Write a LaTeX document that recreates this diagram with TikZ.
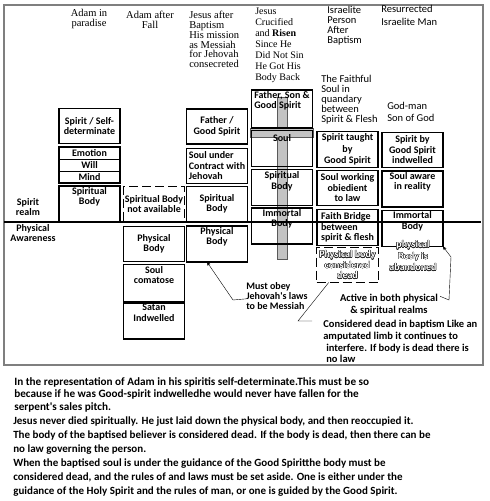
\documentclass[tikz,border=0pt]{standalone}
\usepackage{fontspec}
\setmainfont{Liberation Serif}
\newfontfamily\calibri{Carlito}
\usepackage{contour}
\usetikzlibrary{arrows,positioning}
\contourlength{0.3pt}
\definecolor{frameGray}{HTML}{7F7F7F}
\definecolor{crossGray}{HTML}{C3C3C3}
\newcommand{\tightlines}{\lineskiplimit=-10pt\relax}
\newcommand{\boxfont}{\calibri\bfseries\fontsize{10}{10.5}\selectfont\tightlines}
\newcommand{\notefont}{\calibri\bfseries\fontsize{10.5}{11.7}\selectfont\tightlines}
\newcommand{\obeyfont}{\calibri\bfseries\fontsize{10}{10}\selectfont\tightlines}
\newcommand{\parafont}{\calibri\bfseries\fontsize{11.2}{12.6}\selectfont\tightlines}
\newcommand{\parbfont}{\calibri\bfseries\fontsize{11}{14}\selectfont\tightlines}
\newcommand{\seriffont}{\rmfamily\fontsize{10.5}{9.8}\selectfont\tightlines}
\newcommand{\risenfont}{\rmfamily\fontsize{10}{11}\selectfont\tightlines}
\newcommand{\sansfont}{\calibri\fontsize{10.5}{9.9}\selectfont\tightlines}
\newcommand{\hollow}[1]{\contour{black!85}{\textcolor{white}{#1}}}
\tikzset{
	box/.style={draw, line width=1.8pt, minimum width=61pt, minimum height=35pt,
		inner sep=1pt, outer sep=0pt, align=center, font=\boxfont},
	dashbox/.style={box, dash pattern=on 9pt off 4pt},
	row/.style={draw, line width=0.9pt, minimum width=61pt, minimum height=12pt,
		inner sep=0pt, outer sep=0pt, font=\boxfont},
	serifhead/.style={inner sep=0pt, align=left, font=\seriffont},
	sanshead/.style={anchor=north west, inner sep=0pt, align=left, font=\sansfont},
	note/.style={inner sep=0pt, align=left, font=\notefont},
	link/.style={thin, black}
}

\begin{document}
\begin{tikzpicture}[x=1pt,y=-1pt,>=stealth',semithick]
	\useasboundingbox (0,0) rectangle (490,501);
	\draw[frameGray, line width=1.5pt] (4,5) rectangle (483,365);
	
	% cross behind the crucified column
	\filldraw[fill=crossGray, draw=gray!70!black, thin] (277,97) -- (287,97) -- (287,128) -- (313,128)
		-- (313,137) -- (287,137) -- (287,259) -- (277,259) -- (277,137) -- (250,137) -- (250,128)
		-- (277,128) -- cycle;
	
	\node[serifhead, align=center] (adampar) at (89,19) {Adam in\\paradise};
	\node[serifhead, align=center] (adamfall) at (150,19.5) {Adam after\\Fall};
	\node[serifhead, anchor=north west] (jesusbap) at (189,11) {Jesus after\\Baptism\\His mission\\as Messiah\\for Jehovah\\consecreted};
	\node[serifhead, anchor=north west, font=\risenfont] (jesusrisen) at (255,8)
		{Jesus\\Crucified\\and \textbf{Risen}\\Since He\\Did Not Sin\\He Got His\\Body Back};
	\node[sanshead] (israelite) at (327,6) {Israelite\\Person\\After\\Baptism};
	\node[sanshead] (resurrected) at (381,5) {Resurrected\\[3pt]Israelite Man};
	\node[sanshead] (faithful) at (321,75) {The Faithful\\Soul in\\quandary\\between\\Spirit \& Flesh};
	\node[sanshead] (godman) at (387,102) {God-man\\[2pt]Son of God};
	
	\node[note, align=center, font=\obeyfont] (spiritrealm) at (28,207) {Spirit\\realm};
	\node[note, align=center, font=\obeyfont] (physaware) at (33,233) {Physical\\Awareness};
	
	% Adam in paradise
	\node[box] (c1spirit) at (89.5,126) {Spirit / Self-\\determinate};
	\node[row] (emotion) at (89.5,153) {Emotion};
	\node[row, below=0pt of emotion] (will) {Will};
	\node[row, below=0pt of will] (mind) {Mind};
	\draw[line width=1.8pt] (emotion.north west) rectangle (mind.south east);
	\node[box] (c1body) at (89.5,204) {Spiritual\\Body\\[6pt]};
	
	% Adam after the fall
	\node[dashbox] (c2spirit) at (154,204) {Spiritual Body\\not available};
	\node[box] (c2body) at (154,244) {Physical\\Body};
	\node[box, minimum height=37pt] (c2soul) at (154,283) {Soul\\comatose\\[6pt]};
	\node[box] (c2satan) at (154,321) {Satan\\Indwelled\\[6pt]};
	
	% Jesus after baptism
	\node[box] (c3spirit) at (217,126.5) {Father /\\Good Spirit};
	\node[box, align=left] (c3soul) at (217,166) {Soul under\\Contract with\\Jehovah};
	\node[box] (c3sbody) at (217,204) {Spiritual\\Body};
	\node[box] (c3pbody) at (217,244) {Physical\\Body\\[6pt]};
	
	% Jesus crucified and risen
	\node[box, align=left] (c4spirit) at (282,109) {Father, Son \&\\Good Spirit\\[8pt]};
	\node[box, minimum height=36pt] (c4soul) at (282,148.5) {Soul\\[10pt]};
	\node[box, minimum height=36pt] (c4sbody) at (282,187.5) {Spiritual\\Body\\[4pt]};
	\node[box] (c4ibody) at (282,226) {Immortal\\Body\\[6pt]};
	
	% Israelite after baptism
	\node[box, minimum height=36pt] (c5spirit) at (347.5,149.5) {Spirit taught\\[1pt]by\\[1pt]Good Spirit};
	\node[box] (c5soul) at (347.5,188) {Soul working\\obiedient\\to law};
	\node[box, align=left, minimum height=36pt] (c5bridge) at (347.5,227.5) {Faith Bridge\\between\\spirit \& flesh};
	\node[dashbox, minimum width=62pt] (c5body) at (347.5,265) {\hollow{Physical body}\\\hollow{considered}\\\hollow{dead}};
	
	% resurrected Israelite
	\node[box] (c6spirit) at (412.5,150) {Spirit by\\Good Spirit\\indwelled};
	\node[box] (c6soul) at (412.5,189) {Soul aware\\in reality\\[6pt]};
	\node[box, minimum height=36pt] (c6ibody) at (412.5,228.5) {Immortal\\Body\\[6pt]};
	\node[note, align=center, font=\boxfont] (abandoned) at (413,256) {\hollow{physical}\\[1pt]\hollow{Body is}\\[1pt]\hollow{abandoned}};
	
	% spirit realm / physical awareness
	\draw[line width=1.5pt] (4,222) -- (481,222);
	
	\node[note, anchor=north west, font=\obeyfont] (mustobey) at (246,282) {Must obey\\Jehovah's laws\\to be Messiah};
	\node[note, align=center] (active) at (389,304.5) {Active in both physical\\[1pt]\& spiritual realms};
	\node[note, anchor=north west] (considered) at (323,320) {Considered dead in baptism Like an\\amputated limb it continues to\\\hspace{3pt}interfere. If body is dead there is\\\hspace{3pt}no law};
	
	\coordinate (obeykink) at (233,300);
	\coordinate (deadkink) at (298,321);
	\coordinate (activekink) at (449,300);
	\draw[link,->] ([yshift=-3pt]mustobey.west) -- (obeykink) -- (c3pbody.241);
	\draw[link] (c5body.223) -- (deadkink) -- ++(14,0);
	\draw[link,->] ([xshift=2pt,yshift=-3pt]active.north east) -- (activekink) -- (451,257) -- (c6ibody.south east);
	
	\node[note, anchor=north west, font=\parafont] (adamnote) at (14,377)
		{In the representation of Adam in his spiritis self-determinate.This must be so\\
		because if he was Good-spirit indwelledhe would never have fallen for the\\
		serpent's sales pitch.};
	\node[note, anchor=north west, font=\parbfont] (jesusnote) at (13,416)
		{Jesus never died spiritually. He just laid down the physical body, and then reoccupied it.\\
		The body of the baptised believer is considered dead. If the body is dead, then there can be\\
		no law governing the person.\\
		When the baptised soul is under the guidance of the Good Spiritthe body must be\\
		considered dead, and the rules of and laws must be set aside. One is either under the\\
		guidance of the Holy Spirit and the rules of man, or one is guided by the Good Spirit.};
\end{tikzpicture}
\end{document}
